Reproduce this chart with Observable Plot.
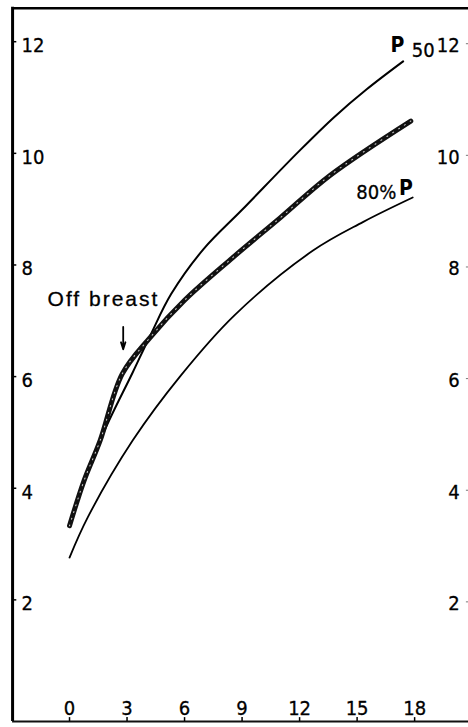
<!DOCTYPE html>
<html><head><meta charset="utf-8">
<script src="https://cdn.jsdelivr.net/npm/d3@7"></script>
<script src="https://cdn.jsdelivr.net/npm/@observablehq/plot@0.6"></script>
<style>body{margin:0;background:#fff} svg{display:block}</style>
</head><body><div id="chart"></div>
<script>
// Tick labels
const ageTicks = [0, 3, 6, 9, 12, 15, 18];
const weightTicks = [2, 4, 6, 8, 10, 12];

// P50 standard curve (age in months, weight in kg)
const p50Age    = [0,   1.6,  3.3,  4.2, 5.3,  7.0,  9.0,  12.0,  13.8,  15.5,  17.4];
const p50Weight = [3.4, 4.93, 6.15, 6.8, 7.55, 8.36, 9.06, 10.12, 10.72, 11.22, 11.72];

// Child's growth curve (thick)
const childAge    = [0,   0.75, 1.6,  2.75, 4.2,  6.0,  8.5,  11.0, 13.6, 17.8];
const childWeight = [3.4, 4.2,  4.93, 6.12, 6.77, 7.44, 8.2,  8.92, 9.68, 10.65];

// 80% of P50 curve
const p80Age    = [0,    0.95, 3.3,  5.8,  8.6,  12.7, 15.3, 17.9];
const p80Weight = [2.83, 3.55, 4.93, 6.09, 7.17, 8.33, 8.84, 9.28];

// Annotations
const offBreastAge = 2.8;
const offBreastLabel = "Off breast";

const p50 = p50Age.map((a, i) => ({age: a, w: p50Weight[i]}));
const child = childAge.map((a, i) => ({age: a, w: childWeight[i]}));
const p80 = p80Age.map((a, i) => ({age: a, w: p80Weight[i]}));

// layout constants
const W = 468, H = 727;
const xDom = [-3.6, 20.81];
const yDom = [-0.215, 12.81];
const xLeft = -2.97, yTop = 12.67, yBottom = -0.108;
const font = "'DejaVu Sans Condensed', 'Liberation Sans', Arial, sans-serif";
const tickText = {fontSize: 20, fill: "#000", stroke: "#000", strokeWidth: 0.3};

const chart = Plot.plot({
  width: W, height: H,
  marginLeft: 0, marginRight: 0, marginTop: 0, marginBottom: 0,
  x: {domain: xDom, axis: null},
  y: {domain: yDom, axis: null},
  style: {fontFamily: font, background: "#fff"},
  marks: [
    // frame lines
    Plot.ruleX([xLeft], {y1: yBottom, y2: yTop + 0.02, stroke: "#000", strokeWidth: 3}),
    Plot.ruleY([yTop], {x1: xLeft, x2: xDom[1], stroke: "#000", strokeWidth: 2.5}),
    Plot.ruleY([yBottom], {x1: xLeft, x2: xDom[1], stroke: "#111", strokeWidth: 2}),
    // left ticks
    Plot.ruleY(weightTicks, {y: d => d, x1: xLeft, x2: xLeft + 0.22, dy: -4, stroke: "#000", strokeWidth: 1.5}),
    // right ticks
    Plot.ruleY(weightTicks, {y: d => d, x1: 20.7, x2: xDom[1], dy: -2, stroke: "#777", strokeWidth: 1}),
    // bottom ticks
    Plot.ruleX(ageTicks, {x: d => d, y1: yBottom, y2: yBottom + 0.07, stroke: "#000", strokeWidth: 1.5}),
    // tick labels
    Plot.text(weightTicks, {x: -2.5, y: d => d, text: d => String(d), textAnchor: "start", ...tickText}),
    Plot.text(weightTicks, {x: 20.35, y: d => d, text: d => String(d), textAnchor: "end", ...tickText}),
    Plot.text(ageTicks, {x: d => d, y: 0.125, text: d => String(d), textAnchor: "middle", ...tickText}),
    // curves
    Plot.line(p80, {x: "age", y: "w", curve: "catmull-rom", stroke: "#000", strokeWidth: 1.8}),
    Plot.line(p50, {x: "age", y: "w", curve: "catmull-rom", stroke: "#000", strokeWidth: 2}),
    Plot.line(child, {x: "age", y: "w", curve: "catmull-rom", stroke: "#111", strokeWidth: 5}),
    Plot.line(child, {x: "age", y: "w", curve: "catmull-rom", stroke: "#fff", strokeWidth: 1.1, strokeDasharray: "1 6", strokeOpacity: 0.75}),
    // annotations
    Plot.text([offBreastLabel], {x: 1.77, y: 7.45, text: d => d, fontFamily: "'Liberation Sans', Arial, sans-serif", fontSize: 21, textAnchor: "middle", fill: "#000", stroke: "#000", strokeWidth: 0.3}),
    Plot.arrow([offBreastAge], {x1: d => d, x2: d => d, y1: 6.96, y2: 6.56, stroke: "#000", strokeWidth: 1.8, headLength: 9, headAngle: 35}),
    Plot.text(["P"], {x: 17.1, y: 12.0, text: d => d, fontSize: 21, fontWeight: "bold", fill: "#000"}),
    Plot.text(["50"], {x: 18.45, y: 11.92, text: d => d, ...tickText}),
    Plot.text(["80%"], {x: 16.0, y: 9.37, text: d => d, ...tickText}),
    Plot.text(["P"], {x: 17.55, y: 9.44, text: d => d, fontSize: 21, fontWeight: "bold", fill: "#000"})
  ]
});
// wider letter spacing for the hand-lettered annotation
d3.select(chart).selectAll("text").filter(function() { return this.textContent === offBreastLabel; })
  .attr("letter-spacing", 2);
document.getElementById("chart").append(chart);
</script>
</body></html>
